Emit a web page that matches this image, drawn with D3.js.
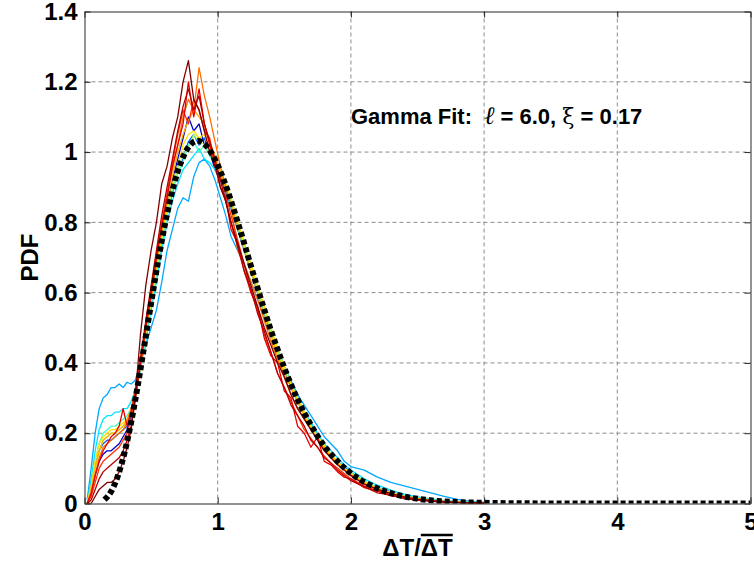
<!DOCTYPE html>
<html>
<head>
<meta charset="utf-8">
<script src="https://cdn.jsdelivr.net/npm/d3@7"></script>
<style>
    body { margin: 0; background: #fff; }
    svg { display: block; font-family: "Liberation Sans", Arial, sans-serif; }
    .tick text { font-size: 24px; font-weight: bold; fill: #000; }
    .tick line { stroke: #262626; }
    .domain { stroke: #262626; }
    .grid-line { stroke: #8c8c8c; stroke-width: 1; stroke-dasharray: 4,3; }
    .series { fill: none; stroke-width: 1.3; stroke-linejoin: round; }
    .fit-line { fill: none; stroke: #000; stroke-width: 6; stroke-dasharray: 5,3; }
    .axis-title { font-size: 24px; font-weight: bold; }
    .note { font-size: 22px; font-weight: bold; }
</style>
</head>
<body>
<svg width="754" height="566"></svg>
<script>
// Axis ticks
var xTicks = [0, 1, 2, 3, 4, 5];
var yTicks = [0, 0.2, 0.4, 0.6, 0.8, 1, 1.2, 1.4];

// Sample points shared by all measured curves (dT / mean dT)
var xs = [0.02, 0.05, 0.08, 0.11, 0.14, 0.17, 0.20, 0.23, 0.26, 0.29, 0.32, 0.35, 0.38,
    0.42, 0.46, 0.50, 0.54, 0.58, 0.62, 0.66, 0.70, 0.74, 0.78, 0.82, 0.86, 0.90, 0.94, 0.98,
    1.02, 1.06, 1.10, 1.15, 1.20, 1.25, 1.30, 1.35, 1.40, 1.45, 1.50, 1.55, 1.60, 1.65, 1.70,
    1.75, 1.80, 1.85, 1.90, 1.95, 2.00, 2.1, 2.2, 2.3, 2.4, 2.5, 2.6, 2.7, 2.8, 2.9, 3.0];

// Measured PDFs, one per run (blue -> dark red)
var run01 = [0, 0.03, 0.08, 0.12, 0.14, 0.15, 0.15, 0.16, 0.17, 0.19, 0.21, 0.25, 0.30,
    0.39, 0.47, 0.58, 0.67, 0.76, 0.84, 0.92, 0.98, 1.04, 1.10, 1.06, 1.08, 1.02, 1.00, 0.95,
    0.92, 0.88, 0.84, 0.78, 0.72, 0.66, 0.60, 0.54, 0.48, 0.43, 0.38, 0.33, 0.29, 0.25, 0.22,
    0.19, 0.16, 0.14, 0.12, 0.10, 0.085, 0.06, 0.045, 0.032, 0.022, 0.015, 0.01, 0.006, 0.004, 0.002, 0.001];
var run02 = [0, 0.05, 0.11, 0.15, 0.17, 0.18, 0.18, 0.19, 0.20, 0.21, 0.22, 0.25, 0.31,
    0.38, 0.48, 0.56, 0.66, 0.74, 0.83, 0.88, 0.96, 0.98, 1.03, 1.05, 1.02, 1.04, 0.99, 0.97,
    0.93, 0.89, 0.86, 0.79, 0.74, 0.67, 0.61, 0.56, 0.49, 0.44, 0.39, 0.34, 0.30, 0.26, 0.23,
    0.19, 0.17, 0.14, 0.12, 0.105, 0.088, 0.063, 0.046, 0.033, 0.023, 0.016, 0.011, 0.007, 0.005, 0.003, 0.002];
var run03 = [0.01, 0.10, 0.20, 0.27, 0.30, 0.31, 0.33, 0.33, 0.34, 0.33, 0.345, 0.34, 0.35,
    0.40, 0.45, 0.50, 0.55, 0.63, 0.72, 0.78, 0.84, 0.87, 0.86, 0.93, 0.97, 0.98, 0.96, 0.92,
    0.87, 0.82, 0.76, 0.72, 0.68, 0.63, 0.58, 0.53, 0.48, 0.43, 0.39, 0.35, 0.31, 0.28, 0.25,
    0.22, 0.19, 0.17, 0.15, 0.12, 0.105, 0.095, 0.075, 0.06, 0.05, 0.04, 0.03, 0.02, 0.012, 0.006, 0.003];
var run04 = [0, 0.07, 0.15, 0.21, 0.24, 0.25, 0.25, 0.26, 0.26, 0.27, 0.27, 0.29, 0.32,
    0.39, 0.46, 0.55, 0.63, 0.72, 0.80, 0.86, 0.91, 0.95, 0.97, 0.99, 1.01, 0.98, 0.97, 0.95,
    0.92, 0.88, 0.84, 0.78, 0.72, 0.66, 0.60, 0.54, 0.49, 0.44, 0.39, 0.34, 0.30, 0.26, 0.23,
    0.20, 0.17, 0.15, 0.13, 0.11, 0.095, 0.07, 0.052, 0.038, 0.027, 0.019, 0.013, 0.008, 0.005, 0.003, 0.002];
var run05 = [0, 0.05, 0.12, 0.17, 0.20, 0.21, 0.22, 0.22, 0.23, 0.24, 0.25, 0.27, 0.31,
    0.38, 0.47, 0.57, 0.65, 0.75, 0.82, 0.89, 0.94, 0.97, 1.02, 1.03, 1.00, 1.02, 0.99, 0.97,
    0.94, 0.91, 0.87, 0.80, 0.74, 0.68, 0.61, 0.55, 0.50, 0.44, 0.39, 0.34, 0.30, 0.26, 0.22,
    0.19, 0.165, 0.14, 0.12, 0.10, 0.088, 0.063, 0.045, 0.032, 0.022, 0.015, 0.01, 0.007, 0.004, 0.003, 0.001];
var run06 = [0, 0.04, 0.10, 0.15, 0.18, 0.19, 0.20, 0.20, 0.21, 0.22, 0.23, 0.26, 0.30,
    0.39, 0.48, 0.57, 0.67, 0.75, 0.83, 0.90, 0.95, 0.99, 1.01, 1.05, 1.03, 1.02, 1.00, 0.97,
    0.94, 0.90, 0.86, 0.80, 0.73, 0.67, 0.61, 0.55, 0.49, 0.43, 0.38, 0.34, 0.29, 0.25, 0.22,
    0.19, 0.165, 0.14, 0.12, 0.10, 0.085, 0.06, 0.043, 0.03, 0.021, 0.014, 0.009, 0.006, 0.004, 0.002, 0.001];
var run07 = [0, 0.05, 0.12, 0.17, 0.19, 0.20, 0.21, 0.21, 0.22, 0.23, 0.24, 0.26, 0.31,
    0.39, 0.49, 0.58, 0.67, 0.76, 0.84, 0.91, 0.96, 1.02, 1.05, 1.06, 1.04, 1.05, 1.01, 0.98,
    0.95, 0.91, 0.87, 0.80, 0.74, 0.68, 0.62, 0.56, 0.50, 0.44, 0.39, 0.34, 0.30, 0.26, 0.22,
    0.19, 0.165, 0.14, 0.12, 0.10, 0.086, 0.062, 0.044, 0.031, 0.021, 0.015, 0.01, 0.006, 0.004, 0.003, 0.002];
var run08 = [0, 0.04, 0.10, 0.15, 0.18, 0.19, 0.20, 0.20, 0.21, 0.22, 0.24, 0.27, 0.31,
    0.40, 0.49, 0.59, 0.68, 0.77, 0.86, 0.93, 1.00, 1.05, 1.09, 1.12, 1.10, 1.08, 1.03, 0.99,
    0.94, 0.90, 0.85, 0.79, 0.72, 0.66, 0.60, 0.53, 0.48, 0.42, 0.37, 0.33, 0.29, 0.25, 0.21,
    0.18, 0.16, 0.135, 0.115, 0.095, 0.082, 0.058, 0.042, 0.03, 0.02, 0.014, 0.009, 0.006, 0.004, 0.002, 0.001];
var run09 = [0, 0.03, 0.08, 0.13, 0.16, 0.17, 0.18, 0.19, 0.20, 0.21, 0.23, 0.27, 0.32,
    0.41, 0.50, 0.60, 0.69, 0.79, 0.88, 0.95, 1.02, 1.10, 1.15, 1.12, 1.24, 1.16, 1.10, 1.03,
    0.96, 0.90, 0.85, 0.72, 0.68, 0.63, 0.58, 0.52, 0.46, 0.41, 0.36, 0.31, 0.27, 0.24, 0.21,
    0.18, 0.155, 0.13, 0.11, 0.095, 0.08, 0.056, 0.04, 0.028, 0.019, 0.013, 0.009, 0.006, 0.004, 0.002, 0.001];
var run10 = [0, 0.02, 0.06, 0.10, 0.12, 0.13, 0.14, 0.15, 0.16, 0.18, 0.20, 0.24, 0.30,
    0.40, 0.51, 0.61, 0.71, 0.80, 0.88, 0.97, 1.05, 1.12, 1.08, 1.15, 1.12, 1.06, 1.04, 0.96,
    0.93, 0.88, 0.82, 0.75, 0.68, 0.60, 0.55, 0.48, 0.43, 0.37, 0.33, 0.29, 0.25, 0.21, 0.185,
    0.16, 0.135, 0.115, 0.10, 0.085, 0.07, 0.05, 0.036, 0.025, 0.017, 0.012, 0.008, 0.005, 0.003, 0.002, 0.001];
var run11 = [0, 0.03, 0.08, 0.12, 0.15, 0.17, 0.19, 0.20, 0.22, 0.27, 0.22, 0.26, 0.31,
    0.39, 0.50, 0.59, 0.70, 0.79, 0.87, 0.96, 1.02, 1.08, 1.20, 1.10, 1.18, 1.08, 1.02, 0.97,
    0.90, 0.87, 0.78, 0.74, 0.66, 0.60, 0.56, 0.47, 0.42, 0.40, 0.32, 0.30, 0.22, 0.20, 0.16,
    0.19, 0.12, 0.11, 0.09, 0.075, 0.07, 0.045, 0.035, 0.022, 0.018, 0.01, 0.008, 0.004, 0.003, 0.002, 0.001];
var run12 = [0, 0.01, 0.04, 0.07, 0.09, 0.10, 0.11, 0.12, 0.13, 0.15, 0.18, 0.22, 0.29,
    0.41, 0.52, 0.62, 0.72, 0.82, 0.90, 0.98, 1.06, 1.13, 1.18, 1.12, 1.16, 1.08, 1.03, 0.98,
    0.92, 0.86, 0.80, 0.73, 0.66, 0.61, 0.54, 0.49, 0.43, 0.37, 0.33, 0.28, 0.25, 0.22, 0.18,
    0.16, 0.13, 0.115, 0.095, 0.08, 0.065, 0.048, 0.03, 0.024, 0.014, 0.01, 0.006, 0.004, 0.002, 0.001, 0.001];
var run13 = [0, 0, 0.02, 0.04, 0.05, 0.06, 0.06, 0.07, 0.09, 0.12, 0.16, 0.21, 0.30,
    0.48, 0.62, 0.72, 0.80, 0.91, 0.96, 1.04, 1.10, 1.20, 1.26, 1.15, 1.12, 1.06, 1.00, 0.96,
    0.90, 0.86, 0.80, 0.74, 0.68, 0.62, 0.56, 0.50, 0.45, 0.40, 0.36, 0.31, 0.27, 0.24, 0.21,
    0.18, 0.15, 0.13, 0.11, 0.095, 0.08, 0.055, 0.04, 0.028, 0.019, 0.012, 0.008, 0.005, 0.003, 0.002, 0.001];

var runs = [run01, run02, run03, run04, run05, run06, run07, run08, run09, run10, run11, run12, run13];
var runColors = ["#0000d0", "#0060ff", "#00a8ff", "#00e4ff", "#40ffc0", "#b0ff50", "#ffe000",
    "#ffb000", "#ff7000", "#ff3000", "#e80000", "#b80000", "#800000"];

// Gamma fit
var fitX = [0.15, 0.2, 0.25, 0.3, 0.35, 0.4, 0.45, 0.5, 0.55, 0.6, 0.65, 0.7, 0.75, 0.8, 0.85,
    0.9, 0.95, 1.0, 1.05, 1.1, 1.15, 1.2, 1.25, 1.3, 1.35, 1.4, 1.45, 1.5, 1.6, 1.7, 1.8, 1.9,
    2.0, 2.2, 2.4, 2.6, 2.8, 3.0, 3.5, 4.0, 4.5, 5.0];
var fitY = [0.011, 0.034, 0.078, 0.144, 0.231, 0.336, 0.452, 0.570, 0.684, 0.787, 0.875, 0.945,
    0.994, 1.023, 1.032, 1.023, 0.999, 0.963, 0.916, 0.861, 0.801, 0.739, 0.675, 0.612, 0.551,
    0.492, 0.438, 0.386, 0.296, 0.223, 0.164, 0.120, 0.086, 0.043, 0.020, 0.009, 0.004, 0.002,
    0.0002, 0, 0, 0];

// SVG settings (note: "top" is reserved on window, so use other names)
var svg = d3.select("svg"),
    marginLeft = 84.5, marginTop = 11.5,
    width = 666, height = 492;

var xScale = d3.scaleLinear().domain([0, 5]).range([0, width]),
    yScale = d3.scaleLinear().domain([0, 1.4]).range([height, 0]);

var g = svg.append("g").attr("transform", "translate(" + marginLeft + "," + marginTop + ")");

g.append("clipPath").attr("id", "plot-clip")
    .append("rect").attr("y", -4).attr("width", width).attr("height", height + 4);

// Grid
g.selectAll(".gx").data(xTicks.slice(1, -1)).enter().append("line")
    .attr("class", "grid-line")
    .attr("x1", d => xScale(d)).attr("x2", d => xScale(d))
    .attr("y1", 0).attr("y2", height);
g.selectAll(".gy").data(yTicks.slice(1, -1)).enter().append("line")
    .attr("class", "grid-line")
    .attr("x1", 0).attr("x2", width)
    .attr("y1", d => yScale(d)).attr("y2", d => yScale(d));

// Measured curves
var plot = g.append("g").attr("clip-path", "url(#plot-clip)");
var line = d3.line()
    .x(d => xScale(d[0]))
    .y(d => yScale(d[1]));

runs.forEach(function (r, i) {
    plot.append("path")
        .datum(r.map((v, j) => [xs[j], v]))
        .attr("class", "series")
        .attr("stroke", runColors[i])
        .attr("d", line);
});

// Gamma fit (dotted)
plot.append("path")
    .datum(fitX.map((v, j) => [v, fitY[j]]))
    .attr("class", "fit-line")
    .attr("d", d3.line().x(d => xScale(d[0])).y(d => yScale(d[1])).curve(d3.curveMonotoneX));

// Axes (ticks point inward)
g.append("g")
    .attr("transform", "translate(0," + height + ")")
    .call(d3.axisBottom(xScale).tickValues(xTicks).tickFormat(d => d)
        .tickSizeInner(-6).tickSizeOuter(0).tickPadding(9));
g.append("g")
    .call(d3.axisLeft(yScale).tickValues(yTicks).tickFormat(d => d)
        .tickSizeInner(-6).tickSizeOuter(0).tickPadding(7));
g.append("g")
    .call(d3.axisTop(xScale).tickValues(xTicks).tickFormat("").tickSizeInner(-6).tickSizeOuter(0));
g.append("g")
    .attr("transform", "translate(" + width + ",0)")
    .call(d3.axisRight(yScale).tickValues(yTicks).tickFormat("").tickSizeInner(-6).tickSizeOuter(0));
g.selectAll(".tick text").attr("font-family", null).attr("font-size", null);

// Axis titles
svg.append("text")
    .attr("class", "axis-title")
    .attr("text-anchor", "middle")
    .attr("transform", "translate(38," + (marginTop + height / 2) + ") rotate(-90)")
    .text("PDF");

var xTitle = svg.append("text")
    .attr("class", "axis-title")
    .attr("text-anchor", "middle")
    .attr("x", marginLeft + width / 2)
    .attr("y", 556)
    .text("ΔT/ΔT");
var tn = xTitle.node();
svg.append("line")
    .attr("x1", tn.getStartPositionOfChar(3).x)
    .attr("x2", tn.getEndPositionOfChar(4).x)
    .attr("y1", 535).attr("y2", 535)
    .attr("stroke", "#000").attr("stroke-width", 2.5);

// Fit annotation
var note = svg.append("text").attr("class", "note").attr("x", 351).attr("y", 124);
note.append("tspan").text("Gamma Fit:");
note.append("tspan").attr("dx", 12).attr("font-size", "25px").attr("font-style", "italic")
    .attr("font-family", "'DejaVu Serif', serif").attr("font-weight", "normal").text("ℓ");
note.append("tspan").text(" = 6.0, ");
note.append("tspan").attr("font-family", "'DejaVu Serif', serif").attr("font-weight", "normal").text("ξ");
note.append("tspan").text(" = 0.17");
</script>
</body>
</html>
